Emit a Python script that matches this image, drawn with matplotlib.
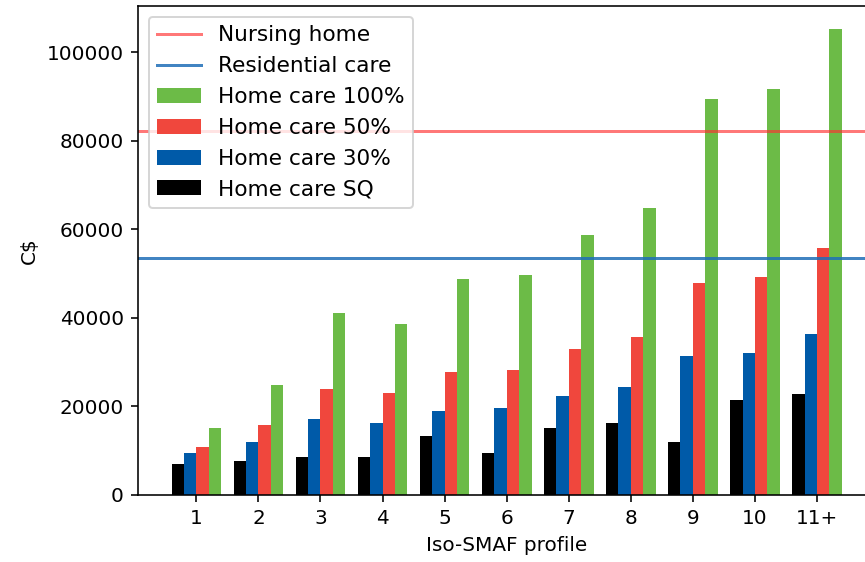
import matplotlib
matplotlib.use("Agg")
import matplotlib.pyplot as plt
import numpy as np

profiles = ["1", "2", "3", "4", "5", "6", "7", "8", "9", "10", "11+"]

home_sq = [7100, 7600, 8600, 8600, 13300, 9500, 15200, 16200, 11900, 21400, 22900]
home_30 = [9500, 11900, 17200, 16300, 19000, 19600, 22400, 24300, 31500, 32000, 36300]
home_50 = [10900, 15700, 23900, 23000, 27700, 28200, 33000, 35700, 47800, 49300, 55900]
home_100 = [15200, 24800, 41100, 38700, 48700, 49700, 58800, 64900, 89400, 91800, 105200]

nursing_home = 82300
residential_care = 53600

green = '#6cbb47'
red = '#f0473d'
blue = '#005aa8'


def main():
  fig = plt.figure(figsize=(865 / 144, 562 / 144), dpi=144)
  ax = fig.add_axes([138 / 865, 67 / 562, 737.4 / 865, 489 / 562])

  x = np.arange(1, len(profiles) + 1)
  w = 0.2

  b100 = ax.bar(x + 0.3, home_100, w, color=green, label='Home care 100%')
  b50 = ax.bar(x + 0.1, home_50, w, color=red, label='Home care 50%')
  b30 = ax.bar(x - 0.1, home_30, w, color=blue, label='Home care 30%')
  bsq = ax.bar(x - 0.3, home_sq, w, color='black', label='Home care SQ')

  l1 = ax.axhline(nursing_home, color='#ff3030', alpha=0.65, label='Nursing home')
  l2 = ax.axhline(residential_care, color='#1f6fb8', alpha=0.85, label='Residential care')

  ax.set_xticks(x)
  ax.set_xticklabels(profiles)
  ax.set_xlabel('Iso-SMAF profile')
  ax.set_ylabel('C$')

  ax.legend(handles=[l1, l2, b100, b50, b30, bsq], loc='upper left', fontsize=10.8)

  fig.savefig('out.png', dpi=144)


if __name__ == '__main__':
  main()
